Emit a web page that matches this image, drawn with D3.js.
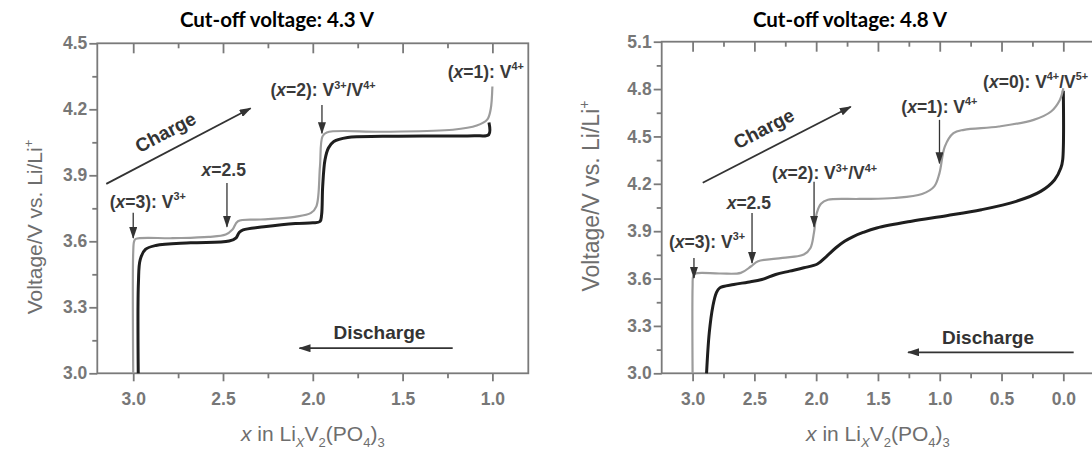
<!DOCTYPE html>
<html><head><meta charset="utf-8">
<script src="https://cdn.jsdelivr.net/npm/d3@7"></script>
<style>body{margin:0;background:#fff}svg{display:block}</style>
</head><body>
<script>
// ---------- DATA ----------
const leftXTicks = [3.0, 2.5, 2.0, 1.5, 1.0];
const leftXMinor = [2.75, 2.25, 1.75, 1.25];
const leftYTicks = [3.0, 3.3, 3.6, 3.9, 4.2, 4.5];
const leftYMinor = [3.15, 3.45, 3.75, 4.05, 4.35];
const rightXTicks = [3.0, 2.5, 2.0, 1.5, 1.0, 0.5, 0.0];
const rightXMinor = [2.75, 2.25, 1.75, 1.25, 0.75, 0.25];
const rightYTicks = [3.0, 3.3, 3.6, 3.9, 4.2, 4.5, 4.8, 5.1];
const rightYMinor = [3.15, 3.45, 3.75, 4.05, 4.35, 4.65, 4.95];

// 4.3 V cut-off: charge (grey) and discharge (black)
const leftChargeX = [3.0, 3.0, 2.995, 2.986, 2.78, 2.58, 2.485, 2.447, 2.417, 2.29, 2.10, 2.01, 1.98, 1.96, 1.946, 1.922, 1.61, 1.22, 1.087, 1.029, 1.01, 1.0];
const leftChargeV = [3.0, 3.55, 3.60, 3.611, 3.614, 3.62, 3.631, 3.654, 3.691, 3.699, 3.711, 3.729, 3.759, 3.941, 4.077, 4.095, 4.098, 4.107, 4.126, 4.153, 4.198, 4.304];
const leftDischargeX = [1.019, 1.02, 1.1, 1.3, 1.612, 1.806, 1.883, 1.913, 1.932, 1.945, 1.951, 1.96, 2.0, 2.097, 2.272, 2.388, 2.41, 2.427, 2.466, 2.68, 2.874, 2.932, 2.961, 2.971, 2.972];
const leftDischargeV = [4.14, 4.085, 4.08, 4.079, 4.077, 4.072, 4.054, 4.024, 3.971, 3.85, 3.72, 3.69, 3.684, 3.681, 3.666, 3.652, 3.64, 3.616, 3.601, 3.593, 3.581, 3.563, 3.517, 3.412, 3.0];

// 4.8 V cut-off
const rightChargeX = [3.0, 3.0, 2.995, 2.977, 2.78, 2.61, 2.526, 2.47, 2.272, 2.10, 2.046, 2.018, 1.995, 1.961, 1.905, 1.651, 1.369, 1.143, 1.044, 1.002, 0.959, 0.889, 0.804, 0.522, 0.24, 0.099, 0.028, 0.0];
const rightChargeV = [3.0, 3.55, 3.615, 3.632, 3.632, 3.636, 3.678, 3.71, 3.731, 3.752, 3.794, 3.889, 4.015, 4.074, 4.099, 4.104, 4.11, 4.135, 4.184, 4.268, 4.436, 4.521, 4.542, 4.563, 4.605, 4.658, 4.731, 4.805];
const rightDischargeX = [0.0, 0.005, 0.02, 0.07, 0.183, 0.381, 0.663, 0.945, 1.228, 1.51, 1.62, 1.70, 1.77, 1.84, 1.92, 1.99, 2.10, 2.215, 2.328, 2.44, 2.554, 2.667, 2.78, 2.808, 2.836, 2.865, 2.887];
const rightDischargeV = [4.79, 4.352, 4.30, 4.226, 4.152, 4.089, 4.036, 3.998, 3.963, 3.920, 3.892, 3.866, 3.836, 3.795, 3.738, 3.692, 3.668, 3.647, 3.626, 3.594, 3.577, 3.562, 3.541, 3.51, 3.425, 3.257, 3.0];

const titles = ["Cut-off voltage: 4.3 V", "Cut-off voltage: 4.8 V"];

// annotation labels (rich text parts)
const lblX3 = [["("], ["x", "i"], ["=3): V"], ["3+", "sup"]];
const lblX25 = [["x", "i"], ["=2.5"]];
const lblX2 = [["("], ["x", "i"], ["=2): V"], ["3+", "sup"], ["/V"], ["4+", "sup"]];
const lblX1 = [["("], ["x", "i"], ["=1): V"], ["4+", "sup"]];
const lblX0 = [["("], ["x", "i"], ["=0): V"], ["4+", "sup"], ["/V"], ["5+", "sup"]];
const xTitle = [["x", "i"], [" in Li"], ["X", "sub i"], ["V"], ["2", "sub"], ["(PO"], ["4", "sub"], [")"], ["3", "sub"]];
const yTitle = [["Voltage/V vs. Li/Li"], ["+", "sup"]];

// ---------- DRAW ----------
const W = 1092, H = 451;
const svg = d3.select("body").append("svg").attr("width", W).attr("height", H);
const defs = svg.append("defs");
defs.append("marker").attr("id", "ah").attr("markerUnits", "userSpaceOnUse")
  .attr("viewBox", "0 0 12 8").attr("refX", 11).attr("refY", 4)
  .attr("markerWidth", 12).attr("markerHeight", 8).attr("orient", "auto")
  .append("path").attr("d", "M0,0 L12,4 L0,8 Z").attr("fill", "#333");

const pairs = (xs, vs) => xs.map((x, i) => [x, vs[i]]);

function rich(g, x, y, parts, fs, opt = {}) {
  const t = g.append("text").attr("x", x).attr("y", y)
    .attr("font-family", opt.family || "Liberation Sans, Arial, sans-serif")
    .attr("font-size", fs).attr("font-weight", opt.weight || "normal")
    .attr("fill", opt.fill || "#333").attr("text-anchor", opt.anchor || "start");
  if (opt.transform) t.attr("transform", opt.transform);
  let shift = 0;
  parts.forEach(([s, f]) => {
    f = f || "";
    const sp = t.append("tspan").text(s);
    let target = 0, size = fs;
    if (f.includes("sup")) { target = -fs * 0.42; size = fs * 0.62; }
    if (f.includes("sub")) { target = fs * 0.28; size = fs * 0.62; }
    sp.attr("font-size", size);
    if (target !== shift) { sp.attr("dy", target - shift); shift = target; }
    if (f.includes("i")) sp.attr("font-style", "italic");
  });
  return t;
}

const panels = [
  {
    title: titles[0], titleX: 277,
    xDomain: [3.2, 0.8], xRange: [97.3, 528.3], yDomain: [3.0, 4.5], yRange: [373.3, 43.3],
    xTicks: leftXTicks, xMinor: leftXMinor, yTicks: leftYTicks, yMinor: leftYMinor,
    charge: pairs(leftChargeX, leftChargeV), discharge: pairs(leftDischargeX, leftDischargeV),
    yLabelX: 35, yLabelY: 227, yLabelSize: 21,
    chargeArrow: [[3.150, 3.861], [2.346, 4.205]], chargeText: [2.821, 4.098],
    dischargeArrow: [[1.221, 3.114], [2.074, 3.114]], dischargeText: [1.629, 3.189],
    notes: [
      { parts: lblX3, at: [3.131, 3.78], anchor: "start", arrow: [[3.0, 3.73], [3.0, 3.615]] },
      { parts: lblX25, at: [2.496, 3.924], anchor: "middle", arrow: [[2.478, 3.865], [2.478, 3.666]] },
      { parts: lblX2, at: [1.943, 4.288], anchor: "middle", arrow: [[1.949, 4.22], [1.949, 4.091]] },
      { parts: lblX1, at: [1.037, 4.371], anchor: "middle" }
    ]
  },
  {
    title: titles[1], titleX: 850,
    xDomain: [3.25, -0.25], xRange: [661.7, 1094.2], yDomain: [3.0, 5.1], yRange: [373.3, 41.7],
    xTicks: rightXTicks, xMinor: rightXMinor, yTicks: rightYTicks, yMinor: rightYMinor,
    charge: pairs(rightChargeX, rightChargeV), discharge: pairs(rightDischargeX, rightDischargeV),
    yLabelX: 592, yLabelY: 196, yLabelSize: 23,
    chargeArrow: [[2.918, 4.207], [1.72, 4.688]], chargeText: [2.425, 4.552],
    dischargeArrow: [[-0.084, 3.133], [1.256, 3.133]], dischargeText: [0.609, 3.232],
    notes: [
      { parts: lblX3, at: [2.883, 3.833], anchor: "middle", arrow: [[2.989, 3.73], [2.989, 3.604]] },
      { parts: lblX25, at: [2.545, 4.077], anchor: "middle", arrow: [[2.519, 4.015], [2.519, 3.699]] },
      { parts: lblX2, at: [1.932, 4.267], anchor: "middle", arrow: [[2.017, 4.213], [2.017, 3.928]] },
      { parts: lblX1, at: [1.003, 4.688], anchor: "middle", arrow: [[1.002, 4.605], [1.002, 4.33]] },
      { parts: lblX0, at: [0.649, 4.847], anchor: "start" }
    ]
  }
];

const axisColor = "#7a7a7a", tickText = "#777";
const fmt = d3.format(".1f");

panels.forEach(p => {
  const x = d3.scaleLinear().domain(p.xDomain).range(p.xRange);
  const y = d3.scaleLinear().domain(p.yDomain).range(p.yRange);
  const g = svg.append("g");

  // title
  g.append("text").attr("x", p.titleX).attr("y", 27).attr("text-anchor", "middle")
    .attr("font-family", "Lato, sans-serif").attr("font-weight", 700).attr("font-size", 20.5)
    .attr("fill", "#000").text(p.title);

  const style = sel => {
    sel.select(".domain").remove();
    sel.selectAll("line").attr("stroke", axisColor).attr("stroke-width", 1.8);
    sel.selectAll("text").attr("fill", tickText).attr("font-size", 17.5).attr("font-weight", "bold")
      .attr("font-family", "Liberation Sans, Arial, sans-serif");
  };
  const [y0, y1] = p.yRange, [x0, x1] = p.xRange;
  // bottom
  g.append("g").attr("transform", `translate(0,${y0})`)
    .call(d3.axisBottom(x).tickValues(p.xTicks).tickSize(8).tickSizeOuter(0).tickPadding(11).tickFormat(fmt)).call(style);
  g.append("g").attr("transform", `translate(0,${y0})`)
    .call(d3.axisBottom(x).tickValues(p.xMinor).tickSize(5).tickFormat("")).call(style);
  // top (inward)
  g.append("g").attr("transform", `translate(0,${y1})`)
    .call(d3.axisTop(x).tickValues(p.xTicks).tickSize(-10).tickFormat("")).call(style);
  g.append("g").attr("transform", `translate(0,${y1})`)
    .call(d3.axisTop(x).tickValues(p.xMinor).tickSize(-5).tickFormat("")).call(style);
  // left
  g.append("g").attr("transform", `translate(${x0},0)`)
    .call(d3.axisLeft(y).tickValues(p.yTicks).tickSize(8).tickPadding(2).tickFormat(fmt)).call(style);
  g.append("g").attr("transform", `translate(${x0},0)`)
    .call(d3.axisLeft(y).tickValues(p.yMinor).tickSize(5).tickFormat("")).call(style);
  // frame
  g.append("rect").attr("x", x0).attr("y", y1).attr("width", x1 - x0).attr("height", y0 - y1)
    .attr("fill", "none").attr("stroke", axisColor).attr("stroke-width", 1.8);

  // curves
  const line = d3.line().x(d => x(d[0])).y(d => y(d[1])).curve(d3.curveCatmullRom.alpha(0.5));
  g.append("path").datum(p.discharge).attr("d", line).attr("fill", "none")
    .attr("stroke", "#1e1e1e").attr("stroke-width", 3);
  g.append("path").datum(p.charge).attr("d", line).attr("fill", "none")
    .attr("stroke", "#9c9c9c").attr("stroke-width", 2.2);

  // arrows
  const arrow = (a, b, w) => g.append("line")
    .attr("x1", x(a[0])).attr("y1", y(a[1])).attr("x2", x(b[0])).attr("y2", y(b[1]))
    .attr("stroke", "#333").attr("stroke-width", w || 1.5).attr("marker-end", "url(#ah)");
  arrow(p.chargeArrow[0], p.chargeArrow[1], 1.8);
  arrow(p.dischargeArrow[0], p.dischargeArrow[1], 1.8);
  const ca = p.chargeArrow;
  const ang = Math.atan2(y(ca[1][1]) - y(ca[0][1]), x(ca[1][0]) - x(ca[0][0])) * 180 / Math.PI;
  const cx = x(p.chargeText[0]), cy = y(p.chargeText[1]);
  rich(g, cx, cy, [["Charge"]], 19, { weight: "bold", anchor: "middle", fill: "#333",
    transform: `rotate(${ang},${cx},${cy})` }).attr("dominant-baseline", "central");
  rich(g, x(p.dischargeText[0]), y(p.dischargeText[1]), [["Discharge"]], 19,
    { weight: "bold", anchor: "middle", fill: "#333" }).attr("dominant-baseline", "central");

  p.notes.forEach(n => {
    rich(g, x(n.at[0]), y(n.at[1]) + 6, n.parts, 17.5, { weight: "bold", anchor: n.anchor, fill: "#3a3a3a" });
    if (n.arrow) arrow(n.arrow[0], n.arrow[1], 1.3);
  });

  // axis titles
  rich(g, (x0 + x1) / 2, 441, xTitle, 21, { anchor: "middle", fill: "#6e6e6e" });
  rich(g, 0, 0, yTitle, p.yLabelSize, { anchor: "middle", fill: "#6e6e6e",
    transform: `translate(${p.yLabelX + 7},${p.yLabelY}) rotate(-90)` });
});
</script>
</body></html>
